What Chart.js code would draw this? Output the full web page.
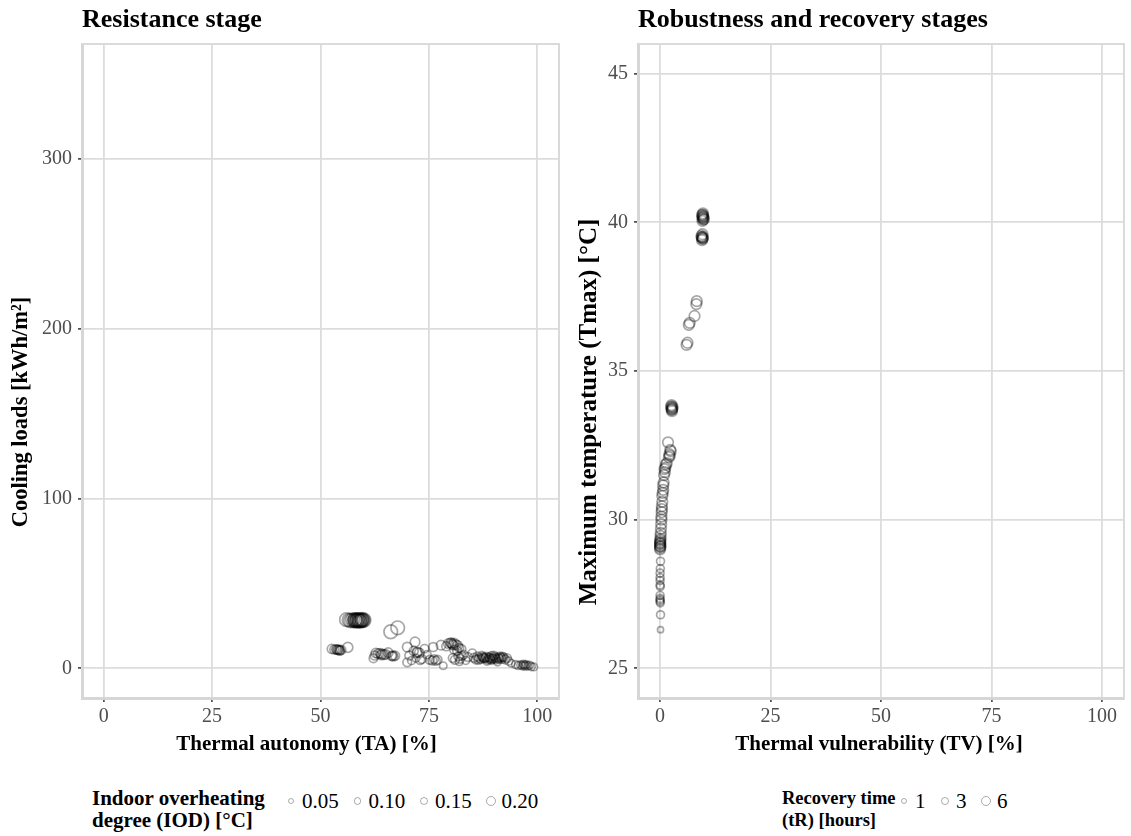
<!DOCTYPE html>
<html>
<head>
<meta charset="utf-8">
<script src="https://cdn.jsdelivr.net/npm/chart.js@4.4.0/dist/chart.umd.min.js"></script>
<style>
  body { margin: 0; background: #fff; width: 1131px; height: 836px; position: relative; overflow: hidden;
         font-family: 'Liberation Serif', 'Times New Roman', serif; }
  canvas { position: absolute; top: 0; }
  #leftChart { left: 0; }
  #rightChart { left: 570px; }
  .legendTitle { position: absolute; top: 787px; font-weight: bold; font-size: 21px; line-height: 22px; color: #000; }
  .key { position: absolute; top: 789px; height: 24px; display: flex; align-items: center; font-size: 21px; color: #000; }
  .dot { display: inline-block; box-sizing: border-box; border: 1.3px solid rgba(0,0,0,0.32); border-radius: 50%; }
  .dotBox { width: 16px; display: flex; justify-content: center; align-items: center; margin-right: 3px; }
</style>
</head>
<body>
<canvas id="leftChart" width="570" height="770"></canvas>
<canvas id="rightChart" width="561" height="770"></canvas>
<div class="legendTitle" style="left:92px">Indoor overheating<br>degree (IOD) [°C]</div>
<div class="legendTitle" style="left:782px; font-size:18.5px">Recovery time<br>(tR) [hours]</div>
<div id="iodKeys"></div>
<div id="trKeys"></div>
<script>
// ---- Resistance stage: thermal autonomy vs cooling loads, sized by IOD ----
const taValues = [
  56.0, 56.6, 57.0, 57.4, 57.8, 58.0, 58.2, 58.4, 58.6, 58.8, 59.0, 59.2, 59.4, 59.6, 59.8, 60.0, 58.5, 59.0, 58.0, 59.5,
  66.2, 67.8,
  52.6, 53.2, 53.6, 54.0, 54.2, 54.5, 54.8, 53.8, 54.4, 56.3,
  62.2, 62.8, 63.3, 63.8, 64.2, 64.6, 65.0, 64.0, 66.4, 66.8, 67.2, 66.6, 65.6, 62.5,
  70.0, 71.8, 70.5, 70.0, 71.0, 72.4, 72.8, 72.2, 73.0, 71.5, 72.0, 73.4,
  75.2, 75.8, 76.2, 76.6, 77.0, 76.0, 77.8, 78.3, 74.6, 74.0,
  79.0, 79.5, 80.0, 80.4, 80.8, 81.2, 81.6, 80.2, 80.6, 82.0, 80.8, 82.5, 81.5,
  80.5, 81.0, 81.8, 82.2, 82.6, 83.0, 83.5, 84.0, 82.0,
  85.0, 85.4, 85.8, 86.2, 86.6, 87.0, 87.4, 87.8, 88.2, 88.6, 89.0, 89.4, 89.8, 90.2, 90.6, 91.0, 91.4, 91.8, 92.2,
  92.6, 93.0, 86.4, 87.2, 88.0, 88.8, 89.6, 90.4, 91.2, 92.0, 88.4, 89.4, 90.8, 93.4, 94.0, 89.2, 90.0, 91.6, 87.6,
  95.0, 95.6, 96.2, 96.6, 97.0, 97.4, 97.8, 98.2, 98.6, 97.2, 96.8, 99.2
];
const coolingLoads = [
  28.6, 28.3, 28.0, 28.4, 28.0, 28.5, 27.8, 28.2, 28.6, 28.0, 28.4, 27.9, 28.3, 28.7, 28.1, 28.4, 28.2, 28.0, 28.4, 28.2,
  21.5, 23.8,
  11.4, 11.0, 11.2, 10.8, 11.0, 10.6, 10.8, 11.0, 10.4, 12.3,
  5.8, 9.0, 8.6, 8.8, 8.4, 8.0, 8.2, 7.8, 7.2, 7.0, 7.4, 7.6, 9.2, 7.5,
  12.5, 15.5, 7.5, 3.5, 4.5, 9.6, 9.0, 9.2, 4.8, 10.2, 6.0, 5.5,
  5.0, 4.6, 5.4, 4.4, 5.0, 12.5, 13.6, 1.5, 8.0, 11.5,
  13.0, 14.6, 15.0, 14.2, 14.8, 14.0, 13.4, 14.8, 13.6, 12.0, 11.0, 11.4, 10.4,
  6.0, 5.0, 7.0, 5.6, 7.4, 8.0, 4.6, 6.6, 4.0,
  9.0, 6.2, 5.2, 7.0, 6.0, 5.4, 6.6, 5.8, 6.8, 5.2, 6.2, 7.2, 5.6, 6.6, 5.2, 6.2, 7.0, 5.6, 6.4,
  5.2, 6.0, 5.0, 7.4, 6.0, 6.4, 5.8, 6.0, 5.6, 6.8, 4.2, 4.6, 3.8, 4.2, 3.0, 5.4, 7.4, 6.4, 6.2,
  2.2, 1.6, 2.0, 1.4, 1.8, 2.2, 1.4, 1.8, 1.0, 1.2, 2.4, 0.8
];
const iodValues = [
  0.34, 0.34, 0.35, 0.35, 0.35, 0.35, 0.35, 0.35, 0.35, 0.35, 0.35, 0.35, 0.35, 0.35, 0.35, 0.35, 0.35, 0.35, 0.35, 0.35,
  0.34, 0.34,
  0.16, 0.16, 0.16, 0.16, 0.16, 0.16, 0.16, 0.16, 0.16, 0.20,
  0.14, 0.18, 0.18, 0.18, 0.18, 0.18, 0.18, 0.18, 0.16, 0.16, 0.16, 0.16, 0.18, 0.16,
  0.18, 0.18, 0.16, 0.15, 0.12, 0.18, 0.18, 0.18, 0.15, 0.16, 0.12, 0.15,
  0.15, 0.15, 0.15, 0.15, 0.15, 0.16, 0.18, 0.10, 0.12, 0.14,
  0.16, 0.18, 0.18, 0.18, 0.18, 0.18, 0.18, 0.18, 0.18, 0.15, 0.15, 0.15, 0.15,
  0.15, 0.15, 0.15, 0.15, 0.15, 0.15, 0.12, 0.15, 0.12,
  0.12, 0.15, 0.15, 0.15, 0.15, 0.15, 0.15, 0.15, 0.15, 0.15, 0.15, 0.15, 0.15, 0.15, 0.15, 0.15, 0.15, 0.15, 0.15,
  0.15, 0.15, 0.15, 0.15, 0.15, 0.15, 0.15, 0.15, 0.15, 0.15, 0.12, 0.12, 0.12, 0.12, 0.10, 0.15, 0.15, 0.15, 0.15,
  0.12, 0.12, 0.12, 0.12, 0.12, 0.12, 0.12, 0.12, 0.12, 0.12, 0.12, 0.10
];

// ---- Robustness and recovery: thermal vulnerability vs Tmax, sized by tR ----
const tvValues = [
  9.5, 9.6, 9.7, 9.8, 9.9, 9.6, 9.7, 9.8, 9.6, 9.7,
  9.4, 9.5, 9.6, 9.7, 9.5, 9.6, 9.4, 9.6,
  8.3, 8.2, 7.8, 6.5, 6.7, 6.2, 6.0,
  2.5, 2.6, 2.7, 2.8, 2.6, 2.7, 2.8, 2.6,
  1.8, 2.3, 2.4, 2.1, 2.2, 2.0,
  1.5, 1.3, 1.2, 1.0, 1.1, 0.9,
  0.8, 0.7, 0.7, 0.6, 0.5,
  0.5, 0.4, 0.4, 0.35, 0.3, 0.3,
  0.25, 0.2, 0.15, 0.1, 0.1, 0.05, 0.0, 0.0, 0.0, 0.0, 0.0, 0.0, 0.05, 0.1,
  0.1, 0.05, 0.0, 0.0, 0.0, 0.0, 0.05,
  0.0, 0.0, 0.0, 0.0, 0.05,
  0.1, 0.1
];
const tmaxValues = [
  40.25, 40.2, 40.3, 40.15, 40.1, 40.05, 40.25, 40.2, 40.15, 40.1,
  39.55, 39.5, 39.45, 39.5, 39.4, 39.6, 39.5, 39.45,
  37.35, 37.25, 36.85, 36.55, 36.62, 35.95, 35.88,
  33.8, 33.75, 33.7, 33.75, 33.85, 33.65, 33.8, 33.7,
  32.6, 32.35, 32.3, 32.2, 32.15, 32.1,
  31.9, 31.85, 31.75, 31.7, 31.6, 31.5,
  31.25, 31.15, 31.0, 30.9, 30.8,
  30.6, 30.45, 30.35, 30.25, 30.1, 30.0,
  29.85, 29.7, 29.55, 29.45, 29.35, 29.3, 29.25, 29.2, 29.15, 29.1, 29.05, 29.0, 29.2, 29.1,
  28.6, 28.35, 28.2, 28.05, 27.95, 27.8, 27.75,
  27.45, 27.35, 27.3, 27.25, 27.2,
  26.8, 26.3
];
const trValues = [
  6, 6, 6, 6, 6, 6, 6, 6, 6, 6,
  6, 6, 6, 6, 6, 6, 6, 6,
  6, 6, 6, 6, 6, 6, 6,
  6, 6, 6, 6, 6, 6, 6, 6,
  6, 6, 6, 6, 6, 6,
  6, 6, 6, 6, 6, 6,
  6, 6, 6, 6, 6,
  6, 6, 6, 6, 6, 6,
  6, 6, 6, 6, 6, 6, 6, 6, 6, 6, 6, 6, 6, 6,
  3, 3, 3, 3, 3, 3, 3,
  3, 3, 3, 3, 3,
  3, 1
];

// axis ticks and legend keys
const taTicks = [0, 25, 50, 75, 100];
const loadTicks = [0, 100, 200, 300];
const tvTicks = [0, 25, 50, 75, 100];
const tmaxTicks = [25, 30, 35, 40, 45];
const iodLegend = [0.05, 0.10, 0.15, 0.20];
const trLegend = [1, 3, 6];

const serif = "'Liberation Serif', 'Times New Roman', serif";
const ringColor = 'rgba(0,0,0,0.35)';
const iodRadius = v => 2.4 + 13 * v;
const trRadius = v => 2.6 + 0.45 * v;

Chart.defaults.font.family = serif;

// light frame on top/right edges of the panel
const panelFrame = {
  id: 'panelFrame',
  beforeDatasetsDraw(chart) {
    const { ctx, chartArea: a } = chart;
    ctx.save();
    ctx.strokeStyle = '#dadada';
    ctx.lineWidth = 2;
    ctx.beginPath();
    ctx.moveTo(a.left, a.top);
    ctx.lineTo(a.right, a.top);
    ctx.lineTo(a.right, a.bottom);
    ctx.stroke();
    ctx.restore();
  }
};

// axis titles drawn by hand so they can sit where the original puts them
const axisTitles = {
  id: 'axisTitles',
  afterDraw(chart, args, o) {
    const { ctx, chartArea: a } = chart;
    ctx.save();
    ctx.fillStyle = '#000';
    ctx.textAlign = 'center';
    ctx.textBaseline = 'middle';
    ctx.font = 'bold ' + o.xSize + 'px ' + serif;
    ctx.fillText(o.xText, (a.left + a.right) / 2 + o.xShift, o.xY);
    ctx.translate(o.yX, o.yY);
    ctx.rotate(-Math.PI / 2);
    ctx.font = 'bold ' + o.ySize + 'px ' + serif;
    ctx.fillText(o.yText, 0, 0);
    ctx.restore();
  }
};

function axis(min, max, ticks, fitSize, isX) {
  return {
    type: 'linear',
    min: min,
    max: max,
    afterBuildTicks: s => { s.ticks = ticks.map(v => ({ value: v })); },
    afterFit: s => { if (isX) s.height = fitSize; else s.width = fitSize; },
    grid: { color: '#dcdcdc', lineWidth: 1.8, tickColor: '#333', tickLength: 4, tickWidth: 1.5 },
    border: { color: '#d6d6d6', width: 3 },
    ticks: { color: '#4d4d4d', font: { size: 20 }, padding: isX ? 3 : 6, callback: v => v },
    title: { display: false }
  };
}

function makeChart(id, title, points, radii, xScale, yScale, padRight, titles) {
  return new Chart(document.getElementById(id), {
    type: 'scatter',
    data: {
      datasets: [{
        data: points,
        pointStyle: 'circle',
        pointRadius: ctx => radii[ctx.dataIndex],
        pointHoverRadius: ctx => radii[ctx.dataIndex],
        borderColor: ringColor,
        backgroundColor: 'rgba(0,0,0,0)',
        pointBorderWidth: 1.7
      }]
    },
    options: {
      responsive: false,
      animation: false,
      devicePixelRatio: 1,
      layout: { padding: { left: 0, right: padRight, top: 0, bottom: 0 } },
      scales: { x: xScale, y: yScale },
      plugins: {
        legend: { display: false },
        tooltip: { enabled: false },
        title: {
          display: true, text: title, align: 'start', fullSize: false, color: '#000',
          font: { size: 26, weight: 'bold' },
          padding: { top: 5, bottom: 7.8 }
        },
        axisTitles: titles
      }
    },
    plugins: [panelFrame, axisTitles]
  });
}

makeChart('leftChart', 'Resistance stage',
  taValues.map((x, i) => ({ x: x, y: coolingLoads[i] })),
  iodValues.map(iodRadius),
  axis(-5, 105, taTicks, 72, true),
  axis(-17.5, 367.5, loadTicks, 82, false),
  11,
  { xText: 'Thermal autonomy (TA) [%]', xSize: 21, xShift: -14, xY: 745,
    yText: 'Cooling loads [kWh/m²]', ySize: 22.5, yX: 21, yY: 412 });

makeChart('rightChart', 'Robustness and recovery stages',
  tvValues.map((x, i) => ({ x: x, y: tmaxValues[i] })),
  trValues.map(trRadius),
  axis(-5, 105, tvTicks, 72, true),
  axis(24, 46, tmaxTicks, 68, false),
  4,
  { xText: 'Thermal vulnerability (TV) [%]', xSize: 21, xShift: -2, xY: 745,
    yText: 'Maximum temperature (Tmax) [°C]', ySize: 25, yX: 20, yY: 412 });

// legend keys (HTML)
function buildKeys(holderId, values, radius, startX, step, fmt) {
  const holder = document.getElementById(holderId);
  values.forEach((v, i) => {
    const key = document.createElement('div');
    key.className = 'key';
    key.style.left = (startX + i * step) + 'px';
    const d = 2 * radius(v);
    key.innerHTML = '<span class="dotBox"><span class="dot" style="width:' + d + 'px;height:' + d + 'px"></span></span>' +
      '<span>' + fmt(v) + '</span>';
    holder.appendChild(key);
  });
}
buildKeys('iodKeys', iodLegend, iodRadius, 283, 66.5, v => v.toFixed(2));
buildKeys('trKeys', trLegend, trRadius, 896, 41, v => String(v));
</script>
</body>
</html>
